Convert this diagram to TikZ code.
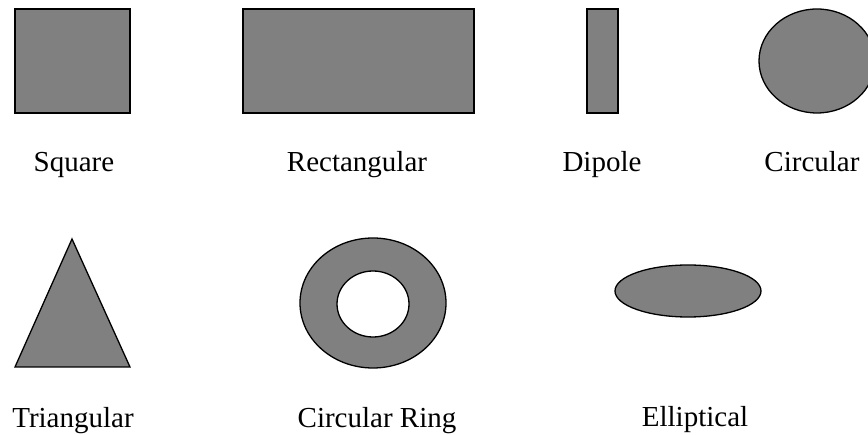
\documentclass[tikz,border=0pt]{standalone}
\usepackage{fontspec}
\setmainfont{Liberation Serif}
\tikzset{
  patch/.style={draw=black, fill=black!50, line width=1.3pt},
  shapename/.style={anchor=base, font=\fontsize{29}{34}\selectfont},
}
\begin{document}
\begin{tikzpicture}[x=1pt,y=-1pt]
\useasboundingbox (0,0) rectangle (868,435);
% top row
\draw[patch] (15,9) rectangle (130,113);
\draw[patch] (243,9) rectangle (474,113);
\draw[patch] (587,9) rectangle (618,113);
\draw[patch] (817,61) ellipse [x radius=58, y radius=52];
\node[shapename] (square) at (74,172) {Square};
\node[shapename] (rect) at (357,172) {Rectangular};
\node[shapename] (dipole) at (602,172) {Dipole};
\node[shapename] (circ) at (812,172) {Circular};
% bottom row
\draw[patch] (72,239) -- (130,367) -- (15,367) -- cycle;
\draw[patch, even odd rule] (373,303) ellipse [x radius=73, y radius=65]
      (373,304) ellipse [x radius=36, y radius=33];
\draw[patch] (688,291) ellipse [x radius=73, y radius=26];
\node[shapename] (tri) at (73,428) {Triangular};
\node[shapename] (ring) at (377,428) {Circular Ring};
\node[shapename] (ellip) at (695,427) {Elliptical};
\end{tikzpicture}
\end{document}
